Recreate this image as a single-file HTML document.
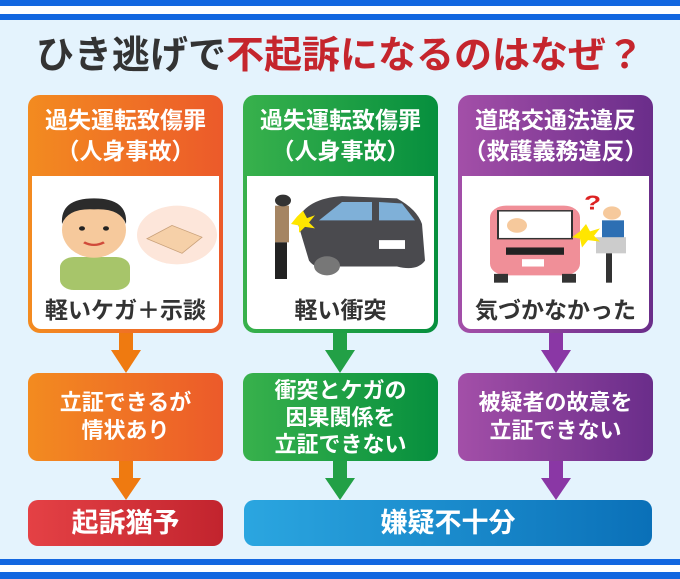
<!DOCTYPE html>
<html><head><meta charset="utf-8"><style>
*{margin:0;padding:0;box-sizing:border-box}
body{width:680px;height:579px;position:relative;overflow:hidden;background:#e4f3fd;font-family:"Liberation Sans","Noto Sans CJK JP",sans-serif;font-weight:bold}
.a{position:absolute}
.card{position:absolute;top:95px;width:195px;height:238px;border-radius:12px}
.hd{position:absolute;left:0;right:0;top:10px;color:#fff;font-size:23px;line-height:31px;text-align:center;white-space:nowrap}
.wh{position:absolute;left:4px;right:4px;top:81px;bottom:4px;background:#fff;border-radius:0 0 9px 9px}
.cap{position:absolute;left:0;right:0;bottom:4px;text-align:center;font-size:23px;color:#333;white-space:nowrap}
.box{position:absolute;width:195px;border-radius:10px;color:#fff;font-size:22px;text-align:center;display:flex;align-items:center;justify-content:center;line-height:28px;white-space:nowrap}
.or{background:linear-gradient(90deg,#f38b20,#ec5a2a)}
.gr{background:linear-gradient(90deg,#38b14c,#068f3e)}
.pu{background:linear-gradient(90deg,#a34fa8,#6a2d8a)}
</style></head><body>
<div class="a" style="left:0;top:0;width:680px;height:6px;background:#1367e0"></div>
<div class="a" style="left:0;top:6px;width:680px;height:8px;background:#fff"></div>
<div class="a" style="left:0;top:14px;width:680px;height:6px;background:#1367e0"></div>
<div class="a" style="left:0;top:559px;width:680px;height:6px;background:#1367e0"></div>
<div class="a" style="left:0;top:565px;width:680px;height:7px;background:#fff"></div>
<div class="a" style="left:0;top:572px;width:680px;height:7px;background:#1367e0"></div>

<div class="a" style="left:0;width:680px;top:30px;text-align:center;font-size:38px;line-height:52px;color:#333;white-space:nowrap">ひき逃げで<span style="color:#c5252d">不起訴になるのはなぜ？</span></div>

<div class="card or" style="left:28px"><div class="hd">過失運転致傷罪<br>（人身事故）</div><div class="wh">
<svg class="a" style="left:0;top:4px" width="187" height="110" viewBox="0 0 187 150" preserveAspectRatio="none">
<rect x="28" y="105" width="70" height="45" rx="14" fill="#a7c56a"/>
<ellipse cx="62" cy="68" rx="32" ry="38" fill="#f6c99c"/>
<path d="M30 60 Q28 25 62 25 Q96 25 94 60 Q88 38 62 40 Q36 38 30 60Z" fill="#2b2b2b"/>
<circle cx="50" cy="66" r="3" fill="#222"/><circle cx="74" cy="66" r="3" fill="#222"/>
<path d="M52 85 Q62 92 72 85" stroke="#d04a3a" stroke-width="3" fill="none"/>
<circle cx="145" cy="75" r="40" fill="#fde6da"/>
<path d="M115 80 L140 62 L170 78 L150 100 Z" fill="#f6d0a8" stroke="#c9a17a"/>
</svg><div class="cap">軽いケガ＋示談</div></div></div>

<div class="card gr" style="left:243px"><div class="hd">過失運転致傷罪<br>（人身事故）</div><div class="wh">
<svg class="a" style="left:0;top:4px" width="187" height="110" viewBox="0 0 187 150" preserveAspectRatio="none">
<path d="M50 55 Q60 25 95 22 L150 25 Q170 40 175 60 L178 110 Q170 125 150 118 L90 118 Q70 125 62 110 Z" fill="#4a4a4e"/>
<path d="M72 55 L95 30 L125 30 L125 55Z" fill="#7fb0d8"/><path d="M132 55 L132 30 L155 32 L168 55Z" fill="#7fb0d8"/>
<rect x="132" y="82" width="26" height="12" fill="#fff"/>
<circle cx="80" cy="117" r="13" fill="#777"/>
<rect x="28" y="35" width="14" height="50" fill="#a58563"/><circle cx="36" cy="28" r="8" fill="#333"/>
<rect x="28" y="85" width="12" height="50" fill="#222"/>
<polygon points="50,50 56,42 60,52 68,48 62,58 68,66 58,64 52,72 52,62 44,60" fill="#ffe600"/>
</svg><div class="cap">軽い衝突</div></div></div>

<div class="card pu" style="left:458px"><div class="hd">道路交通法違反<br>（救護義務違反）</div><div class="wh">
<svg class="a" style="left:0;top:4px" width="187" height="110" viewBox="0 0 187 150" preserveAspectRatio="none">
<rect x="28" y="35" width="90" height="95" rx="16" fill="#f08f98"/>
<rect x="36" y="42" width="74" height="38" fill="#fff" stroke="#333" stroke-width="2"/>
<circle cx="55" cy="62" r="10" fill="#f6c99c"/>
<rect x="44" y="92" width="58" height="10" fill="#222"/>
<rect x="60" y="108" width="22" height="10" fill="#fff"/>
<rect x="32" y="128" width="14" height="12" fill="#333"/><rect x="100" y="128" width="14" height="12" fill="#333"/>
<text x="122" y="40" font-size="28" fill="#d22" font-weight="bold">?</text>
<circle cx="150" cy="45" r="9" fill="#f6c99c"/>
<rect x="140" y="55" width="22" height="30" fill="#2d6fb3"/>
<rect x="134" y="78" width="30" height="22" fill="#ccc"/>
<rect x="144" y="100" width="6" height="40" fill="#333"/>
<polygon points="118,70 124,60 128,70 138,66 132,76 138,84 126,82 120,92 118,80 110,78" fill="#ffe600"/>
</svg><div class="cap">気づかなかった</div></div></div>

<svg class="a" style="left:0;top:0" width="680" height="579">
<g fill="#ef7a10"><rect x="119" y="333" width="14" height="18"/><polygon points="111,350 141,350 126,373"/><rect x="119" y="461" width="14" height="18"/><polygon points="111,478 141,478 126,500"/></g>
<g fill="#22a046"><rect x="333" y="333" width="14" height="18"/><polygon points="325,350 355,350 340,373"/><rect x="333" y="461" width="14" height="18"/><polygon points="325,478 355,478 340,500"/></g>
<g fill="#8a37a5"><rect x="549" y="333" width="14" height="18"/><polygon points="541,350 571,350 556,373"/><rect x="549" y="461" width="14" height="18"/><polygon points="541,478 571,478 556,500"/></g>
</svg>

<div class="box or" style="left:28px;top:373px;height:88px">立証できるが<br>情状あり</div>
<div class="box gr" style="left:243px;top:373px;height:88px;line-height:27px">衝突とケガの<br>因果関係を<br>立証できない</div>
<div class="box pu" style="left:458px;top:373px;height:88px">被疑者の故意を<br>立証できない</div>
<div class="box" style="left:28px;top:500px;height:46px;font-size:27px;background:linear-gradient(90deg,#e44145,#c2242e)">起訴猶予</div>
<div class="box" style="left:244px;top:500px;width:408px;height:46px;font-size:27px;background:linear-gradient(90deg,#2ba6e0,#0a70b8)">嫌疑不十分</div>
</body></html>
